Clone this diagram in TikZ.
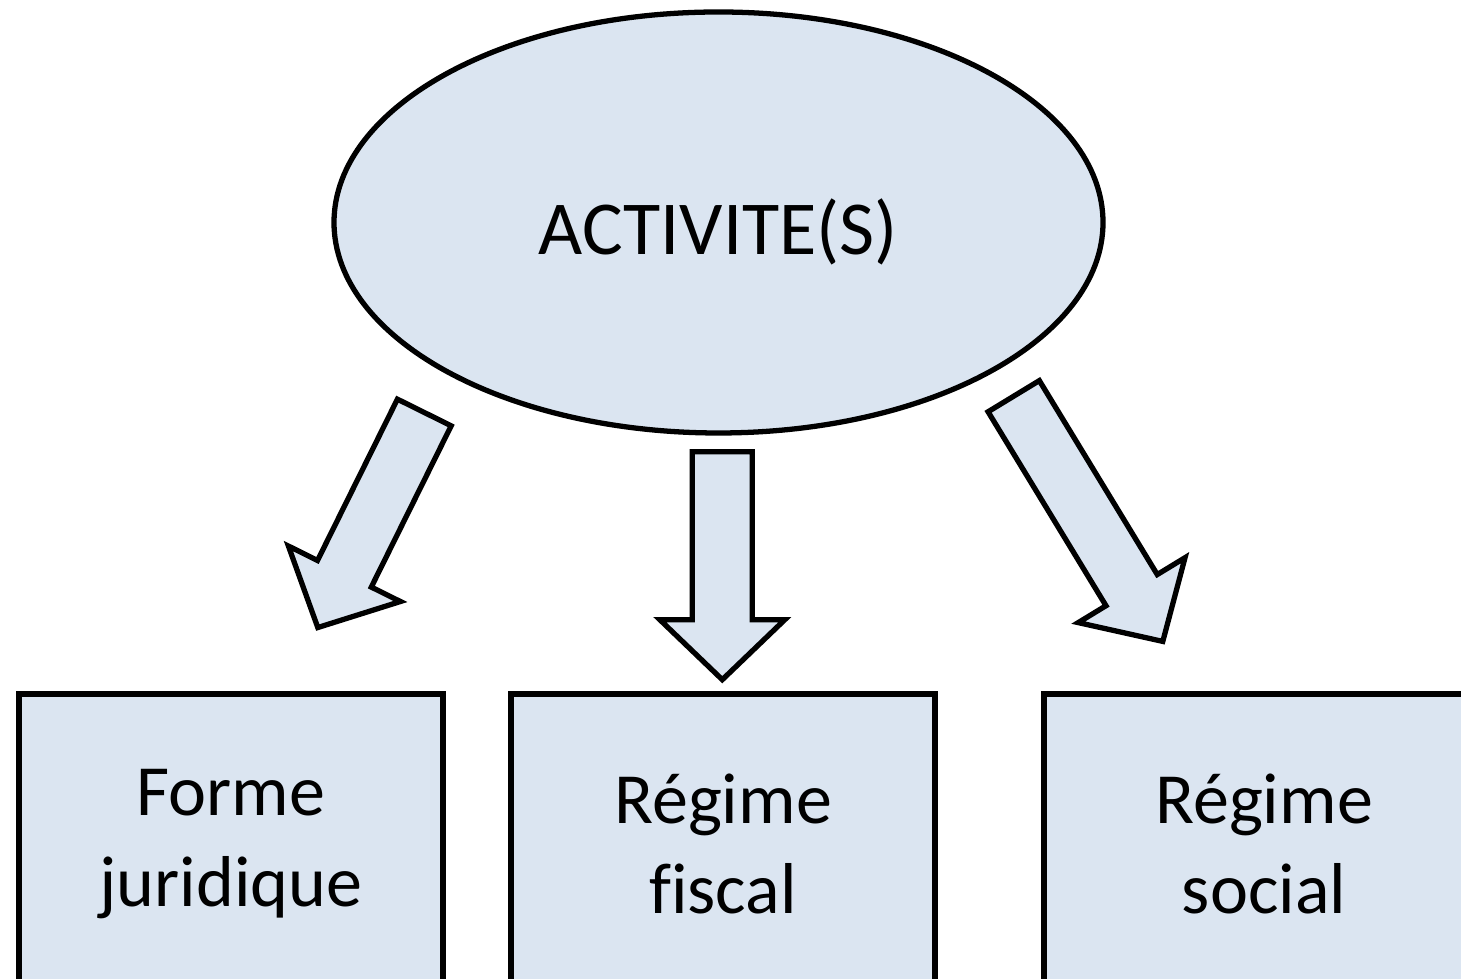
\documentclass[tikz,border=0pt]{standalone}
\usepackage{fontspec}
\setmainfont{Carlito}[Ligatures=NoCommon]
\usetikzlibrary{shapes,positioning}
\definecolor{fond}{RGB}{219,229,241}
\tikzset{
  bulle/.style={ellipse,draw,line width=1.5pt,fill=fond,minimum width=7.69cm,minimum height=4.21cm,inner sep=0pt,text height=6.5mm,text depth=0mm,font=\fontsize{21.7}{26}\selectfont},
  boite/.style={rectangle,draw,line width=1.5pt,fill=fond,minimum width=4.24cm,minimum height=3cm,inner sep=0pt,align=center,font=\fontsize{20.5}{25.8}\selectfont},
  fleche/.style={draw,line width=1.5pt,fill=fond,miter limit=10}
}

\begin{document}
\begin{tikzpicture}
\useasboundingbox(0,0)rectangle(14.61,9.79);
\clip(0,0)rectangle(14.61,9.79);
\node[bulle](act)at(7.185,7.565){ACTIVITE(S)};
\node[boite](forme)at(2.31,1.35){Forme\\juridique};
\node[boite](fiscal)at(7.23,1.35){Régime\\fiscal};
\node[boite,minimum width=4.4cm](social)at(12.64,1.35){Régime\\social};
% fleches : depart x/y, angle, longueur
\foreach \x/\y/\a/\l in {4.243/5.665/243.65/2.40, 7.223/5.273/270/2.28, 10.137/5.828/301.3/2.87}
  \draw[fleche,shift={(\x,\y)},rotate=\a](0,.3)--(\l-.6,.3)--(\l-.6,.625)--(\l,0)--(\l-.6,-.625)--(\l-.6,-.3)--(0,-.3)--cycle;
\end{tikzpicture}
\end{document}
